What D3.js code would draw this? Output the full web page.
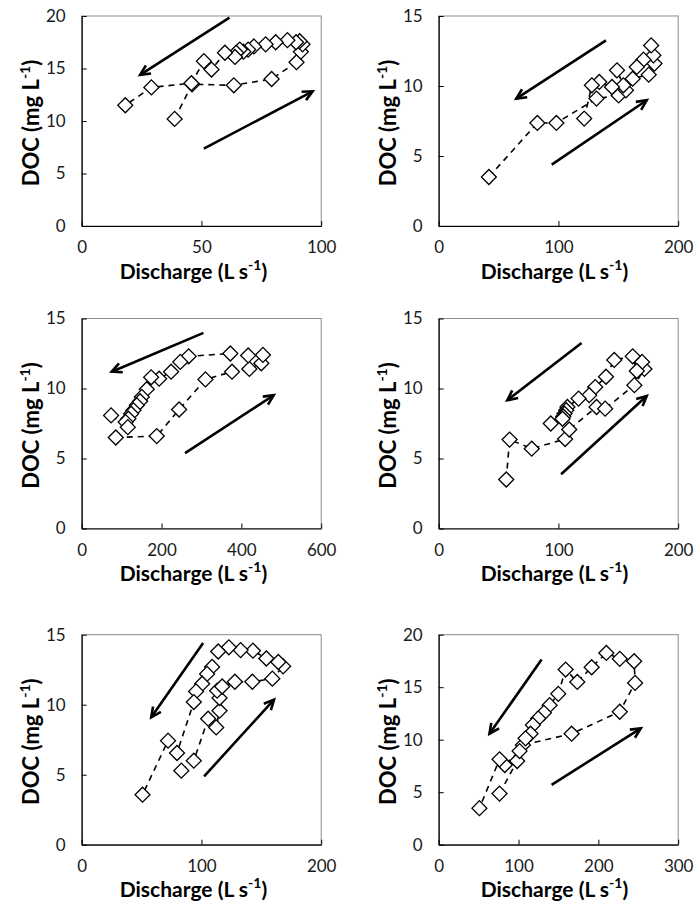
<!DOCTYPE html>
<html>
<head>
<meta charset="utf-8">
<script src="https://cdn.jsdelivr.net/npm/d3@7"></script>
<style>
  html, body { margin: 0; padding: 0; background: #fff; }
  svg { display: block; }
</style>
</head>
<body>
<svg id="chart" width="695" height="905"></svg>
<script>
// Discharge (L s-1) and DOC (mg L-1) for six storm events, in sampling order
const discharge1 = [38.8, 46.1, 63.5, 79.3, 89.7, 91.5, 92.2, 91.0, 89.5, 85.9, 81.0, 76.8, 71.9, 69.5, 67.5, 66.0, 64.5, 64.0, 59.8, 54.2, 51.0, 45.8, 29.1, 18.2];
const doc1       = [10.2, 13.5, 13.4, 14.0, 15.6, 16.6, 17.3, 17.6, 17.5, 17.7, 17.5, 17.3, 17.1, 16.8, 16.6, 16.8, 16.5, 16.1, 16.5, 14.9, 15.7, 13.6, 13.2, 11.5];

const discharge2 = [41.9, 82.4, 98.3, 131.8, 150.3, 156.4, 162.0, 175.4, 180.2, 179.3, 177.4, 171.0, 165.4, 154.2, 148.9, 144.7, 134.1, 127.9, 121.5];
const doc2       = [3.5, 7.36, 7.36, 9.1, 9.33, 9.69, 10.52, 10.81, 11.6, 12.19, 12.9, 11.88, 11.36, 10.05, 11.12, 9.93, 10.29, 10.05, 7.67];

const discharge3 = [85.4, 188, 244, 310, 376.6, 420, 450, 454, 417, 372.4, 268, 247, 224, 194, 174, 163, 150.6, 146.4, 138, 129.7, 123.8, 117, 110, 115.5, 73.6];
const doc3       = [6.5, 6.6, 8.5, 10.65, 11.2, 11.4, 11.8, 12.4, 12.36, 12.5, 12.3, 11.9, 11.2, 10.7, 10.8, 9.95, 9.4, 9.09, 8.8, 8.44, 8.2, 7.84, 7.6, 7.24, 8.08];

const discharge4 = [56.4, 59.2, 77.7, 105.6, 109.0, 131.8, 139.0, 163.4, 171.8, 169.8, 165.4, 162.0, 146.6, 139.7, 130.7, 125.7, 116.8, 107.5, 106.5, 105.0, 104.0, 103.4, 93.6];
const doc4       = [3.5, 6.35, 5.7, 6.39, 7.07, 8.68, 8.56, 10.24, 11.4, 11.9, 11.25, 12.3, 12.04, 10.84, 10.1, 9.52, 9.28, 8.68, 8.45, 8.2, 8.0, 7.84, 7.5];

const discharge5 = [83.2, 93.6, 105.6, 112.3, 115.1, 115.1, 113.1, 117.3, 127.9, 142.5, 159.2, 168.2, 164.2, 154.2, 143.0, 132.7, 122.9, 114.0, 108.9, 104.7, 100.6, 95.5, 93.6, 79.6, 72.1, 50.8];
const doc5       = [5.29, 6.0, 9.0, 8.38, 9.57, 10.48, 11.0, 11.3, 11.64, 11.64, 11.86, 12.74, 13.05, 13.3, 13.86, 13.9, 14.1, 13.8, 12.7, 12.2, 11.5, 10.95, 10.19, 6.55, 7.43, 3.57];

const discharge6 = [76.2, 98.3, 105.4, 166.5, 226.8, 246.0, 244.8, 226.8, 210.0, 191.6, 173.6, 159.0, 149.8, 138.9, 131.8, 124.7, 118.0, 115.1, 108.8, 101.3, 82.8, 76.2, 51.0];
const doc6       = [4.87, 7.97, 9.49, 10.57, 12.66, 15.41, 17.47, 17.7, 18.26, 16.9, 15.5, 16.68, 14.37, 13.29, 12.56, 12.03, 11.39, 10.57, 10.13, 8.92, 7.59, 8.13, 3.48];

// Axis ticks for each panel
const xTicks1 = [0, 50, 100],          yTicks1 = [0, 5, 10, 15, 20];
const xTicks2 = [0, 100, 200],         yTicks2 = [0, 5, 10, 15];
const xTicks3 = [0, 200, 400, 600],    yTicks3 = [0, 5, 10, 15];
const xTicks4 = [0, 100, 200],         yTicks4 = [0, 5, 10, 15];
const xTicks5 = [0, 100, 200],         yTicks5 = [0, 5, 10, 15];
const xTicks6 = [0, 100, 200, 300],    yTicks6 = [0, 5, 10, 15, 20];

// Direction arrows in data units: [fromQ, fromDOC, toQ, toDOC]
const arrows1 = [[61.7, 19.84, 24.4, 14.4], [51.0, 7.37, 96.4, 12.83]];
const arrows2 = [[139.7, 13.26, 64.8, 9.1], [94.4, 4.38, 173.7, 8.98]];
const arrows3 = [[305, 13.97, 75.3, 11.2], [259, 5.38, 481, 9.52]];
const arrows4 = [[119.3, 13.25, 57.3, 9.16], [102.2, 3.87, 173.7, 9.47]];
const arrows5 = [[101.4, 14.4, 58.1, 9.1], [102.2, 4.88, 160.6, 10.36]];
const arrows6 = [[128.9, 17.63, 63.6, 10.57], [141.4, 5.7, 253.1, 11.08]];

const xTitle = "Discharge (L s";
const yTitle = "DOC (mg L";
const unitExp = "-1";

const panels = [
  { q: discharge1, c: doc1, xt: xTicks1, yt: yTicks1, ar: arrows1, col: 0, row: 0 },
  { q: discharge2, c: doc2, xt: xTicks2, yt: yTicks2, ar: arrows2, col: 1, row: 0 },
  { q: discharge3, c: doc3, xt: xTicks3, yt: yTicks3, ar: arrows3, col: 0, row: 1 },
  { q: discharge4, c: doc4, xt: xTicks4, yt: yTicks4, ar: arrows4, col: 1, row: 1 },
  { q: discharge5, c: doc5, xt: xTicks5, yt: yTicks5, ar: arrows5, col: 0, row: 2 },
  { q: discharge6, c: doc6, xt: xTicks6, yt: yTicks6, ar: arrows6, col: 1, row: 2 }
];

// Plot-area layout
const colLeft = [81.7, 438.7];
const titleShift = [-8, -4];
const rowTop = [16, 318.5, 634.7];
const plotW = 239.5, plotH = 210;
const FONT = "Lato, 'Open Sans', sans-serif";

const svg = d3.select("#chart");

panels.forEach(p => {
  const x0 = colLeft[p.col], y0 = rowTop[p.row];
  const g = svg.append("g").attr("transform", `translate(${x0},${y0})`);

  const x = d3.scaleLinear().domain([p.xt[0], p.xt[p.xt.length - 1]]).range([0, plotW]);
  const y = d3.scaleLinear().domain([p.yt[0], p.yt[p.yt.length - 1]]).range([plotH, 0]);

  // plot frame
  g.append("rect")
    .attr("width", plotW).attr("height", plotH)
    .attr("fill", "none").attr("stroke", "#8c8c8c").attr("stroke-width", 1);

  // axes with inward ticks
  const xa = g.append("g").attr("transform", `translate(0,${plotH})`)
    .call(d3.axisBottom(x).tickValues(p.xt).tickSizeInner(-5).tickSizeOuter(0).tickPadding(15.4));
  const ya = g.append("g")
    .call(d3.axisLeft(y).tickValues(p.yt).tickSizeInner(-5).tickSizeOuter(0).tickPadding(16));
  [xa, ya].forEach(a => {
    a.attr("font-family", FONT).attr("font-size", 17);
    a.select(".domain").attr("stroke", "#000").attr("stroke-width", 1.2);
    a.selectAll(".tick line").attr("stroke", "#000").attr("stroke-width", 1);
    a.selectAll(".tick text").attr("fill", "#1a1a1a");
  });

  // dashed path through the samples, then open diamonds
  const pts = p.q.map((d, i) => [d, p.c[i]]);
  g.append("path")
    .attr("d", d3.line().x(d => x(d[0])).y(d => y(d[1]))(pts))
    .attr("fill", "none").attr("stroke", "#000")
    .attr("stroke-width", 1.6).attr("stroke-dasharray", "6,5");

  const sym = d3.symbol().type(d3.symbolSquare).size(112);
  g.selectAll(".pt").data(pts).join("path")
    .attr("class", "pt")
    .attr("d", sym)
    .attr("transform", d => `translate(${x(d[0])},${y(d[1])}) rotate(45)`)
    .attr("fill", "#fff").attr("stroke", "#000").attr("stroke-width", 1.3);

  // direction arrows with open heads
  p.ar.forEach(a => {
    const xa1 = x(a[0]), ya1 = y(a[1]), xa2 = x(a[2]), ya2 = y(a[3]);
    const ang = Math.atan2(ya2 - ya1, xa2 - xa1);
    const hl = 11, hw = Math.PI / 7;
    g.append("line")
      .attr("x1", xa1).attr("y1", ya1).attr("x2", xa2).attr("y2", ya2)
      .attr("stroke", "#000").attr("stroke-width", 2.6);
    const h1 = [xa2 - hl * Math.cos(ang - hw), ya2 - hl * Math.sin(ang - hw)];
    const h2 = [xa2 - hl * Math.cos(ang + hw), ya2 - hl * Math.sin(ang + hw)];
    g.append("path")
      .attr("d", `M${h1[0]},${h1[1]}L${xa2},${ya2}L${h2[0]},${h2[1]}`)
      .attr("fill", "none").attr("stroke", "#000").attr("stroke-width", 2.6)
      .attr("stroke-linejoin", "miter").attr("stroke-linecap", "butt");
  });

  // axis titles
  const xt = g.append("text")
    .attr("x", plotW / 2 + titleShift[p.col]).attr("y", plotH + 52.5)
    .attr("text-anchor", "middle")
    .attr("font-family", FONT).attr("font-weight", "bold").attr("font-size", 21)
    .attr("fill", "#000");
  xt.append("tspan").text(xTitle);
  xt.append("tspan").attr("dy", -9).attr("font-size", 14).text(unitExp);
  xt.append("tspan").attr("dy", 9).text(")");

  const yt = g.append("text")
    .attr("transform", `translate(-43,${plotH / 2 + 2}) rotate(-90)`)
    .attr("text-anchor", "middle")
    .attr("font-family", FONT).attr("font-weight", "bold").attr("font-size", 22)
    .attr("fill", "#000");
  yt.append("tspan").text(yTitle);
  yt.append("tspan").attr("dy", -9).attr("font-size", 14).text(unitExp);
  yt.append("tspan").attr("dy", 9).text(")");
});
</script>
</body>
</html>
